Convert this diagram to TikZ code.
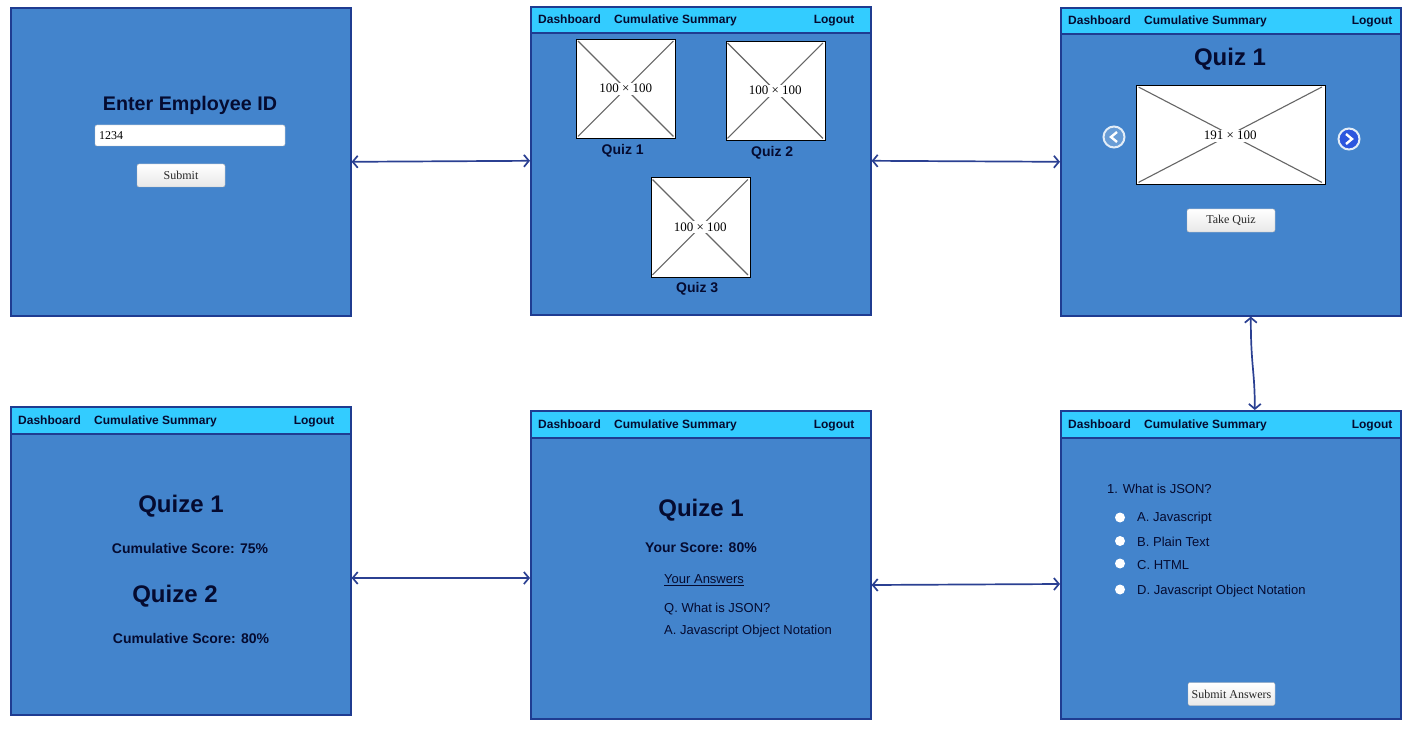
\documentclass[tikz,border=0pt]{standalone}
\usepackage{fontspec}
\setmainfont{Liberation Sans}
\newfontfamily\serifbtn{Liberation Serif}
\usetikzlibrary{arrows.meta,positioning}
\definecolor{screenblue}{HTML}{4384CC}
\definecolor{edgeblue}{HTML}{1F3C91}
\definecolor{barblue}{HTML}{33CCFF}
\definecolor{inkblue}{HTML}{050B30}
\definecolor{linkblue}{HTML}{2B4092}
\tikzset{
%Define standard arrow tip
    >={Straight Barb[length=5pt,width=12pt]},
%Define style for screens
    screen/.style={
           rectangle,
           draw=edgeblue, line width=1.6pt,
           fill=screenblue,
           anchor=north west,
           minimum width=340pt,
           minimum height=308pt},
    navbar/.style={
           rectangle,
           draw=edgeblue, line width=1.6pt,
           fill=barblue,
           anchor=north west,
           minimum width=340pt,
           minimum height=#1},
    navtext/.style={
           font=\bfseries\fontsize{12}{14}\selectfont,
           text=inkblue,
           inner sep=0pt},
    title/.style={
           font=\bfseries\fontsize{#1}{#1}\selectfont,
           text=inkblue,
           inner sep=0pt},
    body/.style={
           font=\fontsize{13}{15}\selectfont,
           text=inkblue,
           anchor=west,
           inner sep=0pt},
    button/.style={
           rectangle,
           rounded corners=2pt,
           draw=gray!60,
           top color=white, bottom color=gray!18,
           font=\serifbtn\fontsize{12}{14}\selectfont,
           text=black!85,
           minimum height=23pt,
           inner sep=0pt},
    holder/.style={
           rectangle,
           draw=black,
           fill=white,
           anchor=north west,
           minimum height=99pt},
    holdertext/.style={
           fill=white,
           font=\serifbtn\fontsize{13}{15}\selectfont,
           inner sep=1.5pt},
    cross/.style={
           draw=black!60, line width=1.1pt},
    radio/.style={
           circle,
           fill=white,
           minimum size=10pt,
           inner sep=0pt},
    slide/.style={
           circle,
           draw=white!85!screenblue, line width=2pt,
           fill=#1,
           minimum size=21pt,
           inner sep=0pt},
% Define arrow style
    pil/.style={
           <->,
           draw=linkblue,
           line width=1.7pt}
}

\begin{document}
\begin{tikzpicture}[x=1pt,y=-1pt,node distance=10pt]
 \useasboundingbox (0,0) rectangle (1413,730);
% screens
 \node[screen] (login) at (10,7) {};
 \node[screen] (dash) at (530,6) {};
 \node[screen] (start) at (1060,7) {};
 \node[screen] (summary) at (10,406) {};
 \node[screen] (result) at (530,410) {};
 \node[screen] (question) at (1060,410) {};
% top bars
 \foreach \scr/\hgt/\gap in {dash/26pt/17pt,start/26pt/9pt,summary/27pt/17pt,result/27pt/17pt,question/27pt/9pt}{
   \node[navbar=\hgt] (\scr bar) at (\scr.north west) {};
   \node[navtext,anchor=base west] at ([shift={(8pt,-4pt)}]\scr bar.west) {Dashboard};
   \node[navtext,anchor=base west] at ([shift={(84pt,-4pt)}]\scr bar.west) {Cumulative Summary};
   \node[navtext,anchor=base east] at ([shift={(-\gap,-4pt)}]\scr bar.east) {Logout};
 }
% login
 \node[title=19.7] (idtitle) at (190,105.5) {Enter Employee ID};
 \node[rectangle,rounded corners=2pt,draw=gray!50,fill=white,minimum width=190pt,minimum height=21pt,
   text width=182pt,inner sep=0pt,font=\serifbtn\fontsize{12}{14}\selectfont] (idfield) at (190,135.5) {1234};
 \node[button,minimum width=88pt] (idsubmit) at (181,175.5) {Submit};
% dashboard
 \foreach \nam/\x/\y/\lab/\sft in {one/576/39/Quiz 1/-3pt,two/725.5/41/Quiz 2/-3pt,three/650.5/177.5/Quiz 3/-3pt}{
   \node[holder,minimum width=99pt] (\nam) at (\x,\y) {};
   \draw[cross] ([shift={(2pt,2pt)}]\nam.south west) -- ([shift={(-2pt,-2pt)}]\nam.north east);
   \draw[cross] ([shift={(2pt,-2pt)}]\nam.north west) -- ([shift={(-2pt,2pt)}]\nam.south east);
   \node[holdertext] at (\nam.center) {100 × 100};
   \node[title=14,below=5.5pt of \nam,xshift=\sft] {\lab};
 }
% quiz start
 \node[title=24] (starttitle) at (1230,59.5) {Quiz 1};
 \node[holder,minimum width=189pt] (big) at (1135.5,85) {};
 \draw[cross] ([shift={(3pt,2pt)}]big.south west) -- ([shift={(-3pt,-2pt)}]big.north east);
 \draw[cross] ([shift={(3pt,-2pt)}]big.north west) -- ([shift={(-3pt,2pt)}]big.south east);
 \node[holdertext] at ([yshift=-1pt]big.center) {191 × 100};
 \node[slide=screenblue!80!white] (prev) at (1114,137) {};
 \node[slide=blue!35!screenblue] (next) at (1349,139) {};
 \draw[white,line width=2.4pt] ([shift={(3pt,-5pt)}]prev.center) -- ([xshift=-3pt]prev.center) -- ([shift={(3pt,5pt)}]prev.center);
 \draw[white,line width=2.4pt] ([shift={(-3pt,-5pt)}]next.center) -- ([xshift=3pt]next.center) -- ([shift={(-3pt,5pt)}]next.center);
 \node[button,minimum width=88pt] (take) at (1231,220.5) {Take Quiz};
% question
 \node[body] (qtext) at (1107,489) {1. What is JSON?};
 \foreach \nam/\y/\ty/\lab in {a/517.5/518/A. Javascript,b/541/541.5/B. Plain Text,c/563.5/565/C. HTML,d/589.5/591/D. Javascript Object Notation}{
   \node[radio] (radio\nam) at (1120,\y) {};
   \node[body] (ans\nam) at (1137,\ty) {\lab};
 }
 \node[button,minimum width=87pt] (send) at (1231.5,694) {Submit Answers};
% result
 \node[title=24] (restitle) at (701,510.5) {Quize 1};
 \node[title=14] (resscore) at (701,548) {Your Score: 80\%};
 \node[body] (resans) at (664,580) {\underline{Your Answers}};
 \node[body] (resq) at (664,609) {Q. What is JSON?};
 \node[body] (resa) at (664,631) {A. Javascript Object Notation};
% summary
 \node[title=24] (sumone) at (181,506.5) {Quize 1};
 \node[title=14] (sumonescore) at (190,548) {Cumulative Score: 75\%};
 \node[title=24] (sumtwo) at (175,596.5) {Quize 2};
 \node[title=14] (sumtwoscore) at (191,638) {Cumulative Score: 80\%};
% links
 \draw[pil] (login.east) -- (dash.west);
 \draw[pil] (dash.east) -- (start.west);
 \draw[pil] ([xshift=20pt]start.south) .. controls ([xshift=20pt,yshift=-50pt]start.south) and ([xshift=24pt,yshift=40pt]questionbar.north) .. ([xshift=24pt]questionbar.north);
 \draw[pil] (question.west |- 0,584) -- (result.east |- 0,585);
 \draw[pil] (result.west |- 0,578) -- (summary.east |- 0,578);
\end{tikzpicture}
\end{document}
